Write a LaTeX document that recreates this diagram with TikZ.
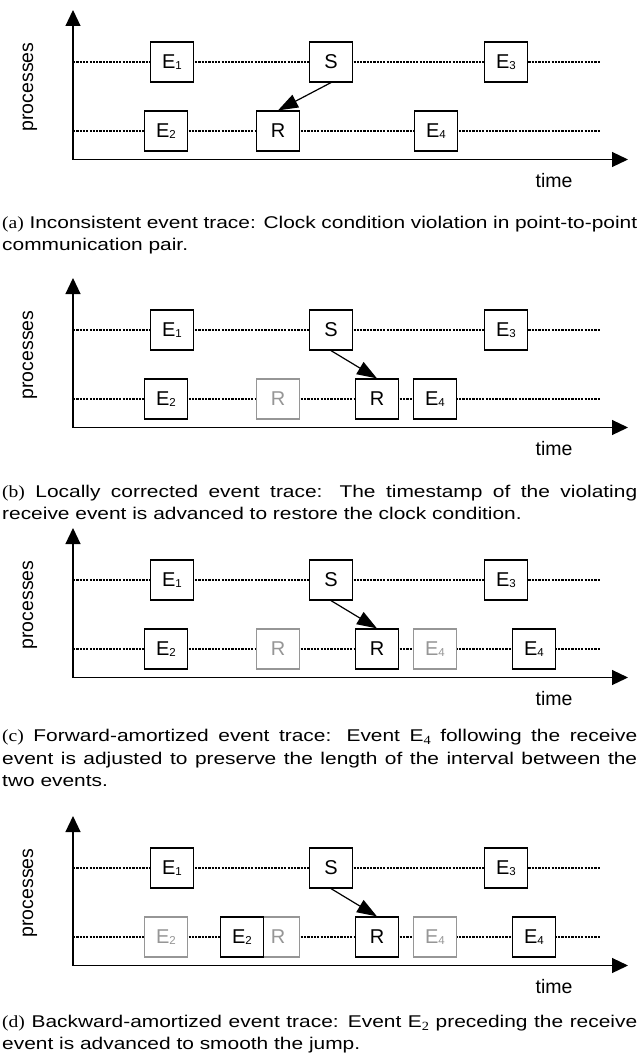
\documentclass[tikz,border=0pt]{standalone}
\usepackage{fontspec}
\setmainfont{Liberation Sans}
\newfontfamily\capsans[FakeStretch=1.23]{Liberation Sans}
\newfontfamily\capserif[FakeStretch=1.15]{Liberation Serif}
\usetikzlibrary{arrows.meta}
\definecolor{ghostgray}{RGB}{150,150,150}
\newcommand\evsub[1]{\raisebox{-1.2pt}{\fontsize{11.5}{12}\selectfont #1}}
\newcommand\capsub[1]{\raisebox{-3pt}{\capserif\fontsize{12.5}{13}\selectfont #1}}
\tikzset{
  ev/.style={draw, fill=white, line width=1.2pt, minimum width=43pt, minimum height=40pt,
             inner sep=0pt, font=\fontsize{20}{22}\selectfont},
  ghost/.style={ev, draw=ghostgray, text=ghostgray},
  proc/.style={line width=2.2pt, dash pattern=on 2.2pt off 1.1pt},
  axis/.style={line width=1.2pt, -{Triangle[length=16pt,width=15pt]}},
  msg/.style={line width=1.2pt, -{Triangle[length=20pt,width=14pt]}},
  lbl/.style={font=\fontsize{19.5}{21}\selectfont, inner sep=0pt},
  captext/.style={font=\capsans\fontsize{17}{22.5}\selectfont, text width=635pt, align=justify,
              inner sep=0pt, anchor=base west}
}
\newcommand\basepanel[1]{%
  \coordinate (#1O) at (73,159.5);
  \coordinate (#1Y) at (73,10);
  \coordinate (#1X) at (628,159.5);
  \coordinate (#1Ps) at (73,62);
  \coordinate (#1Pe) at (600,62);
  \coordinate (#1Qs) at (73,131);
  \coordinate (#1Qe) at (600,131);
  \draw[proc] (#1Ps) -- (#1Pe);
  \draw[proc] (#1Qs) -- (#1Qe);
  \draw[axis] (#1O) -- (#1Y);
  \draw[axis] (#1O) -- (#1X);
  \node[lbl, rotate=90, anchor=base] (#1proc) at (33,87) {processes};
  \node[lbl, anchor=base] (#1time) at (554,187) {time};
  \node[ev] (#1E1) at (172,62) {E\evsub{1}};
  \node[ev] (#1S) at (331,62) {S};
  \node[ev] (#1E3) at (506,62) {E\evsub{3}};
}
\begin{document}
\begin{tikzpicture}[x=1pt, y=-1pt]
\useasboundingbox (0,0) rectangle (639,1057);
% ---------- (a)
\begin{scope}
  \basepanel{a}
  \node[ev] (aE2) at (166,131) {E\evsub{2}};
  \node[ev] (aR) at (278,131) {R};
  \node[ev] (aE4) at (436,131) {E\evsub{4}};
  \draw[msg] (aS.south) -- (aR.north);
\end{scope}
\node[captext] (capa) at (2,228) {{\capserif (a)} Inconsistent event trace: Clock condition violation in point-to-point\linebreak communication pair.};
% ---------- (b)
\begin{scope}[shift={(0,268)}]
  \basepanel{b}
  \node[ev] (bE2) at (166,131) {E\evsub{2}};
  \node[ghost] (bRold) at (278,131) {R};
  \node[ev] (bR) at (377,131) {R};
  \node[ev] (bE4) at (435,131) {E\evsub{4}};
  \draw[msg] (bS.south) -- (bR.north);
\end{scope}
\node[captext] (capb) at (2,497) {{\capserif (b)} Locally corrected event trace: The timestamp of the violating\linebreak receive event is advanced to restore the clock condition.};
% ---------- (c)
\begin{scope}[shift={(0,518)}]
  \basepanel{c}
  \node[ev] (cE2) at (166,131) {E\evsub{2}};
  \node[ghost] (cRold) at (278,131) {R};
  \node[ev] (cR) at (377,131) {R};
  \node[ghost] (cE4old) at (435,131) {E\evsub{4}};
  \node[ev] (cE4) at (534,131) {E\evsub{4}};
  \draw[msg] (cS.south) -- (cR.north);
\end{scope}
\node[captext] (capc) at (2,741.5) {{\capserif (c)} Forward-amortized event trace: Event E\capsub{4} following the receive\linebreak event is adjusted to preserve the length of the interval between the\linebreak two events.};
% ---------- (d)
\begin{scope}[shift={(0,806)}]
  \basepanel{d}
  \node[ghost] (dE2old) at (166,131) {E\evsub{2}};
  \node[ghost] (dRold) at (278,131) {R};
  \node[ev] (dE2) at (242,131) {E\evsub{2}};
  \node[ev] (dR) at (377,131) {R};
  \node[ghost] (dE4old) at (435,131) {E\evsub{4}};
  \node[ev] (dE4) at (534,131) {E\evsub{4}};
  \draw[msg] (dS.south) -- (dR.north);
\end{scope}
\node[captext] (capd) at (2,1027) {{\capserif (d)} Backward-amortized event trace: Event E\capsub{2} preceding the receive\linebreak event is advanced to smooth the jump.};
\end{tikzpicture}
\end{document}
